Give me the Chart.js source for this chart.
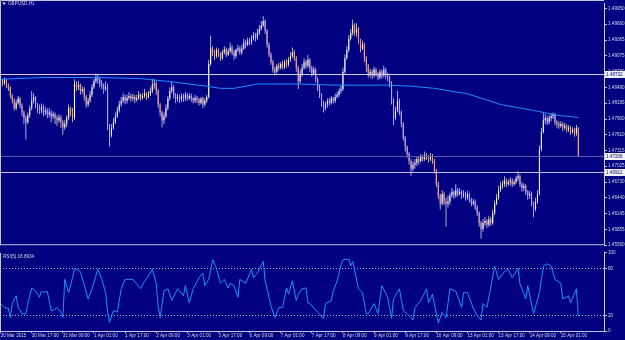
<!DOCTYPE html>
<html>
<head>
<meta charset="utf-8">
<script src="https://cdn.jsdelivr.net/npm/chart.js@4.4.0/dist/chart.umd.min.js"></script>
<style>
  html, body { margin: 0; padding: 0; background: #000080; }
  body { width: 625px; height: 340px; position: relative; overflow: hidden; }
  #priceChart { position: absolute; left: 0; top: 0; }
  #rsiChart { position: absolute; left: 0; top: 249px; }
</style>
</head>
<body>
<canvas id="priceChart" width="625" height="249"></canvas>
<canvas id="rsiChart" width="625" height="91"></canvas>
<script>
// GBPUSD H1, one bar per hour, 30 Mar 2015 01:00 .. 15 Apr 2015
const firstOpen = 1.4864;
const closes = [
  1.4860,1.4856,1.4864,1.4853,1.4849,1.4833,1.4824,1.4810,1.4820,1.4828,1.4815,1.4802,1.4792,1.4784,1.4797,1.4810,
  1.4824,1.4831,1.4817,1.4810,1.4806,1.4813,1.4802,1.4806,1.4799,1.4802,1.4795,1.4799,1.4792,1.4788,1.4793,1.4784,
  1.4775,1.4781,1.4792,1.4810,1.4802,1.4792,1.4856,1.4849,1.4853,1.4842,1.4846,1.4831,1.4817,1.4824,1.4835,1.4849,
  1.4860,1.4867,1.4864,1.4856,1.4853,1.4846,1.4849,1.4774,1.4759,1.4774,1.4784,1.4795,1.4806,1.4817,1.4824,1.4831,
  1.4824,1.4829,1.4833,1.4828,1.4831,1.4826,1.4829,1.4835,1.4829,1.4833,1.4838,1.4831,1.4837,1.4842,1.4853,1.4856,
  1.4842,1.4817,1.4802,1.4788,1.4795,1.4810,1.4828,1.4842,1.4849,1.4835,1.4828,1.4831,1.4826,1.4833,1.4828,1.4835,
  1.4829,1.4833,1.4828,1.4824,1.4829,1.4826,1.4820,1.4828,1.4817,1.4824,1.4831,1.4892,1.4921,1.4914,1.4907,1.4918,
  1.4910,1.4903,1.4914,1.4919,1.4910,1.4916,1.4923,1.4914,1.4907,1.4918,1.4921,1.4914,1.4921,1.4932,1.4928,1.4936,
  1.4932,1.4939,1.4945,1.4941,1.4950,1.4957,1.4964,1.4972,1.4954,1.4928,1.4910,1.4896,1.4882,1.4878,1.4889,1.4885,
  1.4892,1.4887,1.4896,1.4891,1.4900,1.4907,1.4914,1.4903,1.4885,1.4860,1.4874,1.4885,1.4896,1.4889,1.4900,1.4885,
  1.4874,1.4882,1.4864,1.4849,1.4835,1.4820,1.4810,1.4817,1.4824,1.4820,1.4828,1.4824,1.4831,1.4835,1.4842,1.4846,
  1.4878,1.4903,1.4918,1.4939,1.4950,1.4964,1.4950,1.4957,1.4936,1.4921,1.4928,1.4903,1.4889,1.4874,1.4878,1.4871,
  1.4882,1.4874,1.4867,1.4878,1.4871,1.4882,1.4871,1.4867,1.4856,1.4824,1.4792,1.4806,1.4824,1.4802,1.4781,1.4756,
  1.4738,1.4725,1.4712,1.4698,1.4705,1.4709,1.4716,1.4712,1.4720,1.4716,1.4723,1.4720,1.4716,1.4721,1.4712,1.4694,
  1.4669,1.4648,1.4633,1.4651,1.4637,1.4633,1.4637,1.4648,1.4655,1.4648,1.4658,1.4651,1.4655,1.4648,1.4651,1.4644,
  1.4651,1.4640,1.4633,1.4637,1.4626,1.4615,1.4597,1.4586,1.4597,1.4601,1.4594,1.4604,1.4597,1.4615,1.4633,1.4644,
  1.4658,1.4666,1.4669,1.4676,1.4669,1.4673,1.4676,1.4669,1.4673,1.4680,1.4684,1.4669,1.4662,1.4666,1.4655,1.4648,
  1.4651,1.4633,1.4622,1.4637,1.4651,1.4734,1.4766,1.4788,1.4792,1.4784,1.4792,1.4795,1.4799,1.4784,1.4781,1.4777,
  1.4781,1.4774,1.4777,1.4770,1.4774,1.4766,1.4770,1.4763,1.4774,1.4721
];
const highs = [
  1.4867,1.4864,1.4867,1.4865,1.4856,1.4851,1.4837,1.4828,1.4826,1.4833,1.4831,1.4819,1.4806,1.4797,1.4802,1.4815,
  1.4842,1.4838,1.4833,1.4820,1.4817,1.4819,1.4817,1.4813,1.4810,1.4810,1.4806,1.4804,1.4802,1.4797,1.4799,1.4797,
  1.4788,1.4788,1.4797,1.4817,1.4813,1.4811,1.4864,1.4860,1.4860,1.4856,1.4851,1.4849,1.4835,1.4829,1.4842,1.4855,
  1.4865,1.4874,1.4873,1.4869,1.4862,1.4856,1.4860,1.4856,1.4781,1.4781,1.4792,1.4802,1.4813,1.4824,1.4831,1.4838,
  1.4835,1.4835,1.4840,1.4837,1.4837,1.4835,1.4835,1.4842,1.4838,1.4838,1.4846,1.4840,1.4842,1.4849,1.4865,1.4864,
  1.4860,1.4846,1.4820,1.4806,1.4802,1.4817,1.4833,1.4849,1.4860,1.4853,1.4838,1.4837,1.4835,1.4838,1.4837,1.4840,
  1.4838,1.4838,1.4837,1.4831,1.4835,1.4833,1.4829,1.4831,1.4831,1.4829,1.4835,1.4900,1.4945,1.4925,1.4918,1.4923,
  1.4921,1.4914,1.4918,1.4925,1.4923,1.4921,1.4932,1.4927,1.4918,1.4921,1.4928,1.4925,1.4928,1.4939,1.4937,1.4941,
  1.4941,1.4946,1.4952,1.4950,1.4957,1.4964,1.4972,1.4981,1.4975,1.4957,1.4932,1.4914,1.4900,1.4887,1.4892,1.4894,
  1.4896,1.4898,1.4900,1.4901,1.4905,1.4914,1.4923,1.4918,1.4907,1.4889,1.4882,1.4892,1.4903,1.4900,1.4909,1.4903,
  1.4889,1.4887,1.4885,1.4867,1.4853,1.4838,1.4824,1.4822,1.4828,1.4829,1.4833,1.4831,1.4837,1.4840,1.4847,1.4853,
  1.4885,1.4910,1.4925,1.4946,1.4957,1.4975,1.4968,1.4968,1.4961,1.4939,1.4936,1.4932,1.4907,1.4892,1.4883,1.4882,
  1.4887,1.4885,1.4878,1.4882,1.4882,1.4889,1.4885,1.4876,1.4871,1.4860,1.4828,1.4813,1.4842,1.4828,1.4806,1.4784,
  1.4759,1.4741,1.4729,1.4716,1.4711,1.4716,1.4721,1.4720,1.4725,1.4723,1.4730,1.4727,1.4723,1.4727,1.4725,1.4716,
  1.4698,1.4673,1.4651,1.4658,1.4655,1.4644,1.4648,1.4653,1.4662,1.4658,1.4669,1.4662,1.4662,1.4658,1.4658,1.4655,
  1.4657,1.4653,1.4644,1.4642,1.4640,1.4630,1.4619,1.4601,1.4604,1.4608,1.4604,1.4610,1.4608,1.4622,1.4639,1.4651,
  1.4666,1.4673,1.4676,1.4684,1.4680,1.4678,1.4682,1.4680,1.4678,1.4685,1.4693,1.4687,1.4673,1.4671,1.4669,1.4658,
  1.4657,1.4655,1.4637,1.4644,1.4658,1.4741,1.4774,1.4801,1.4799,1.4795,1.4797,1.4801,1.4802,1.4801,1.4788,1.4786,
  1.4786,1.4784,1.4783,1.4781,1.4779,1.4777,1.4775,1.4774,1.4779,1.4775
];
const lows = [
  1.4855,1.4851,1.4853,1.4847,1.4842,1.4828,1.4819,1.4806,1.4806,1.4817,1.4810,1.4795,1.4781,1.4752,1.4781,1.4792,
  1.4806,1.4819,1.4810,1.4801,1.4799,1.4801,1.4795,1.4797,1.4792,1.4793,1.4784,1.4790,1.4781,1.4777,1.4783,1.4774,
  1.4761,1.4770,1.4775,1.4788,1.4795,1.4784,1.4788,1.4842,1.4844,1.4835,1.4837,1.4824,1.4811,1.4813,1.4820,1.4831,
  1.4846,1.4856,1.4856,1.4849,1.4846,1.4837,1.4842,1.4770,1.4739,1.4756,1.4770,1.4781,1.4792,1.4802,1.4813,1.4820,
  1.4817,1.4819,1.4826,1.4822,1.4824,1.4820,1.4822,1.4826,1.4824,1.4826,1.4829,1.4826,1.4828,1.4833,1.4838,1.4846,
  1.4835,1.4811,1.4795,1.4775,1.4781,1.4792,1.4806,1.4824,1.4838,1.4828,1.4820,1.4822,1.4820,1.4822,1.4822,1.4824,
  1.4824,1.4826,1.4822,1.4819,1.4820,1.4820,1.4815,1.4817,1.4810,1.4813,1.4820,1.4828,1.4889,1.4907,1.4900,1.4903,
  1.4905,1.4898,1.4900,1.4910,1.4905,1.4907,1.4912,1.4909,1.4900,1.4903,1.4914,1.4909,1.4910,1.4918,1.4921,1.4925,
  1.4927,1.4928,1.4936,1.4934,1.4937,1.4946,1.4954,1.4961,1.4948,1.4923,1.4905,1.4891,1.4876,1.4871,1.4874,1.4880,
  1.4882,1.4882,1.4883,1.4885,1.4887,1.4896,1.4903,1.4898,1.4878,1.4846,1.4856,1.4869,1.4882,1.4883,1.4885,1.4878,
  1.4869,1.4871,1.4858,1.4842,1.4829,1.4813,1.4802,1.4806,1.4811,1.4815,1.4817,1.4819,1.4820,1.4828,1.4831,1.4837,
  1.4842,1.4874,1.4900,1.4914,1.4936,1.4945,1.4945,1.4943,1.4930,1.4914,1.4918,1.4896,1.4878,1.4867,1.4867,1.4864,
  1.4867,1.4869,1.4862,1.4864,1.4865,1.4867,1.4865,1.4860,1.4849,1.4817,1.4779,1.4788,1.4802,1.4797,1.4775,1.4750,
  1.4730,1.4718,1.4705,1.4685,1.4693,1.4698,1.4703,1.4705,1.4709,1.4711,1.4712,1.4714,1.4709,1.4712,1.4707,1.4689,
  1.4664,1.4642,1.4622,1.4630,1.4630,1.4590,1.4626,1.4631,1.4644,1.4642,1.4644,1.4646,1.4648,1.4642,1.4644,1.4639,
  1.4640,1.4635,1.4628,1.4630,1.4621,1.4610,1.4590,1.4568,1.4581,1.4592,1.4588,1.4590,1.4592,1.4594,1.4612,1.4630,
  1.4640,1.4655,1.4660,1.4664,1.4664,1.4666,1.4667,1.4664,1.4666,1.4669,1.4675,1.4664,1.4655,1.4657,1.4649,1.4640,
  1.4642,1.4628,1.4608,1.4619,1.4633,1.4648,1.4730,1.4763,1.4781,1.4779,1.4781,1.4786,1.4790,1.4779,1.4774,1.4772,
  1.4774,1.4768,1.4770,1.4765,1.4766,1.4761,1.4763,1.4757,1.4759,1.4720
];

// moving average, read at a few bars
const maBars   = [0, 22, 51, 72, 86, 106, 113, 120, 132, 139, 154, 171, 199, 211, 223, 240, 257, 274, 286, 297];
const maValues = [1.4864, 1.4867, 1.4867, 1.4865, 1.4860, 1.4851, 1.4847, 1.4847, 1.4855, 1.4855,
                  1.4855, 1.4853, 1.4853, 1.4851, 1.4847, 1.4837, 1.4817, 1.4806, 1.4797, 1.4793];

// RSI(5) readings
const rsiBars = [0,2,4,5,6,8,9,11,13,14,16,18,20,21,22,24,26,27,29,31,32,33,35,37,38,41,45,47,50,52,54,55,56,58,60,62,64,68,70,72,74,76,78,80,81,82,84,86,88,91,94,95,97,99,102,104,105,107,109,111,113,115,117,118,120,122,123,126,129,130,132,135,136,139,141,143,145,147,148,150,152,153,155,157,158,159,163,166,167,170,171,173,175,176,179,180,181,184,186,188,189,192,194,196,199,201,202,205,207,209,212,213,216,219,220,222,225,227,229,231,234,237,238,240,243,245,247,248,250,254,256,259,261,263,266,267,270,271,274,277,279,281,283,285,288,289,292,293,296,297];
const rsiValues = [35,30,29,17,35,45,30,22,22,35,55,51,43,51,49,51,26,26,30,24,17,66,49,68,80,76,41,54,79,66,49,24,11,26,24,54,66,66,60,54,64,70,79,61,32,17,51,54,39,54,45,58,36,54,68,74,58,66,91,80,61,66,55,61,58,43,66,61,79,68,74,89,64,32,17,30,30,55,47,64,39,47,54,55,36,35,24,16,35,39,51,64,85,91,92,83,89,54,49,22,22,35,22,58,43,16,41,54,26,22,14,30,39,54,36,47,10,24,17,54,51,30,49,49,29,20,14,35,30,83,66,76,79,68,80,60,41,58,22,49,83,86,83,66,61,41,45,36,54,18.89];
const rsiLevels = [20, 80];

const priceTicks = [1.49950, 1.49660, 1.49365, 1.49075, 1.48780, 1.48490, 1.48195, 1.47900,
                    1.47610, 1.47315, 1.47025, 1.46730, 1.46440, 1.46145, 1.45855, 1.45560];
const rsiTicks = [0, 20, 80, 100];
const timeTickBars = [0,16,32,48,64,80,96,112,128,144,160,176,192,208,224,240,256,272,288];
const timeLabels = ['30 Mar 2015','30 Mar 17:00','31 Mar 09:00','1 Apr 01:00','1 Apr 17:00','2 Apr 09:00',
  '3 Apr 01:00','3 Apr 17:00','6 Apr 09:00','7 Apr 01:00','7 Apr 17:00','8 Apr 09:00','9 Apr 01:00',
  '9 Apr 17:00','10 Apr 09:00','13 Apr 01:00','13 Apr 17:00','14 Apr 09:00','15 Apr 01:00'];

// horizontal lines: two drawn levels and the bid
const levelPrices = [1.48732, 1.47206, 1.46912];
const levelColors = ['#d0d0f0', '#5a5aa8', '#c0c0ec'];

const BG = '#000080';
const FG = '#d4d4e4';
const AXIS = '#c4c4dc';
const FONT = "'Liberation Sans', Arial, sans-serif";
const xMin = -0.3, xMax = 310.2;

const opens = closes.map((c, i) => i === 0 ? firstOpen : closes[i - 1]);
const wicks = closes.map((c, i) => ({ x: i, y: [lows[i], highs[i]] }));
const bodies = closes.map((c, i) => ({ x: i, y: [opens[i], c] }));
const bodyColors = closes.map((c, i) => c >= opens[i] ? '#f4f4fa' : '#e898ae');

function txt(ctx, s, x, y, color) {
  ctx.save();
  ctx.font = '4.6px ' + FONT;
  ctx.fillStyle = color || FG;
  ctx.textBaseline = 'middle';
  ctx.textAlign = 'left';
  ctx.fillText(s, x, y);
  ctx.restore();
}

const priceOverlay = {
  id: 'priceOverlay',
  afterDatasetsDraw(chart) {
    const ctx = chart.ctx, a = chart.chartArea, y = chart.scales.y;
    ctx.save();
    levelPrices.forEach((p, i) => {
      const py = Math.round(y.getPixelForValue(p)) + 0.5;
      ctx.strokeStyle = levelColors[i];
      ctx.lineWidth = 1.2;
      ctx.beginPath();
      ctx.moveTo(a.left, py);
      ctx.lineTo(a.right, py);
      ctx.stroke();
    });
    ctx.restore();
  },
  afterDraw(chart) {
    const ctx = chart.ctx, a = chart.chartArea, y = chart.scales.y;
    ctx.save();
    ctx.strokeStyle = AXIS;
    ctx.lineWidth = 1;
    ctx.beginPath();
    ctx.moveTo(0.5, a.bottom);
    ctx.lineTo(0.5, 0.5);
    ctx.lineTo(a.right, 0.5);
    ctx.moveTo(0, a.bottom - 0.5);
    ctx.lineTo(a.right, a.bottom - 0.5);
    ctx.stroke();
    // price boxes on the axis
    levelPrices.forEach(p => {
      const py = Math.round(y.getPixelForValue(p)) + 0.5;
      ctx.fillStyle = '#f2f2fa';
      ctx.fillRect(a.right + 1, py - 3.5, 20, 7);
      txt(ctx, p.toFixed(5), a.right + 2, py, BG);
    });
    // title
    ctx.fillStyle = FG;
    ctx.beginPath();
    ctx.moveTo(2, 2.5);
    ctx.lineTo(6, 2.5);
    ctx.lineTo(4, 5);
    ctx.closePath();
    ctx.fill();
    txt(ctx, 'GBPUSD,H1', 8, 4);
    ctx.restore();
  }
};

const rsiOverlay = {
  id: 'rsiOverlay',
  beforeDatasetsDraw(chart) {
    const ctx = chart.ctx, a = chart.chartArea, y = chart.scales.y;
    ctx.save();
    ctx.strokeStyle = '#b8b8d8';
    ctx.lineWidth = 1;
    ctx.setLineDash([1, 2]);
    rsiLevels.forEach(v => {
      const py = Math.round(y.getPixelForValue(v)) + 0.5;
      ctx.beginPath();
      ctx.moveTo(a.left, py);
      ctx.lineTo(a.right, py);
      ctx.stroke();
    });
    ctx.restore();
  },
  afterDraw(chart) {
    const ctx = chart.ctx, a = chart.chartArea;
    ctx.save();
    ctx.strokeStyle = AXIS;
    ctx.lineWidth = 1;
    ctx.beginPath();
    ctx.moveTo(0.5, a.top);
    ctx.lineTo(0.5, a.bottom);
    ctx.stroke();
    ctx.restore();
    txt(ctx, 'RSI(5) 18.8934', 3, a.top + 3.5);
  }
};

const tickFont = { family: FONT, size: 4.6 };

new Chart(document.getElementById('priceChart'), {
  type: 'bar',
  data: {
    datasets: [
      { type: 'line', data: maBars.map((b, i) => ({ x: b, y: maValues[i] })),
        borderColor: '#1e90ff', borderWidth: 1, pointRadius: 0, tension: 0 },
      { data: bodies, backgroundColor: bodyColors, barThickness: 1.1, grouped: false, borderWidth: 0, inflateAmount: 0 },
      { data: wicks, backgroundColor: '#d8d8e8', barThickness: 0.8, grouped: false, borderWidth: 0, inflateAmount: 0 }
    ]
  },
  options: {
    responsive: false,
    animation: false,
    devicePixelRatio: 1,
    layout: { padding: 0 },
    plugins: { legend: { display: false }, tooltip: { enabled: false } },
    scales: {
      x: { type: 'linear', display: false, min: xMin, max: xMax, offset: false },
      y: {
        position: 'right',
        min: 1.45558, max: 1.50040,
        afterBuildTicks: s => { s.ticks = priceTicks.map(v => ({ value: v })); },
        afterFit: s => { s.width = 21; },
        ticks: { callback: v => Number(v).toFixed(5), color: FG, font: tickFont, padding: 1, autoSkip: false },
        grid: { drawOnChartArea: false, tickLength: 3, color: AXIS },
        border: { color: AXIS }
      }
    }
  },
  plugins: [priceOverlay]
});

new Chart(document.getElementById('rsiChart'), {
  type: 'line',
  data: {
    datasets: [{
      data: rsiBars.map((b, i) => ({ x: b, y: rsiValues[i] })),
      borderColor: '#1e90ff', borderWidth: 1, pointRadius: 0, tension: 0
    }]
  },
  options: {
    responsive: false,
    animation: false,
    devicePixelRatio: 1,
    layout: { padding: { top: 2 } },
    plugins: { legend: { display: false }, tooltip: { enabled: false } },
    scales: {
      x: {
        type: 'linear', min: xMin, max: xMax,
        afterBuildTicks: s => { s.ticks = timeTickBars.map(v => ({ value: v })); },
        afterFit: s => { s.height = 9; },
        ticks: { callback: (v, i) => timeLabels[i], color: FG, font: tickFont, padding: 0,
                 align: 'start', maxRotation: 0, autoSkip: false },
        grid: { drawOnChartArea: false, tickLength: 2, color: AXIS },
        border: { color: AXIS }
      },
      y: {
        position: 'right', min: 0, max: 100,
        afterBuildTicks: s => { s.ticks = rsiTicks.map(v => ({ value: v })); },
        afterFit: s => { s.width = 21; },
        ticks: { color: FG, font: tickFont, padding: 1, autoSkip: false },
        grid: { drawOnChartArea: false, tickLength: 3, color: AXIS },
        border: { color: AXIS }
      }
    }
  },
  plugins: [rsiOverlay]
});
</script>
</body>
</html>
